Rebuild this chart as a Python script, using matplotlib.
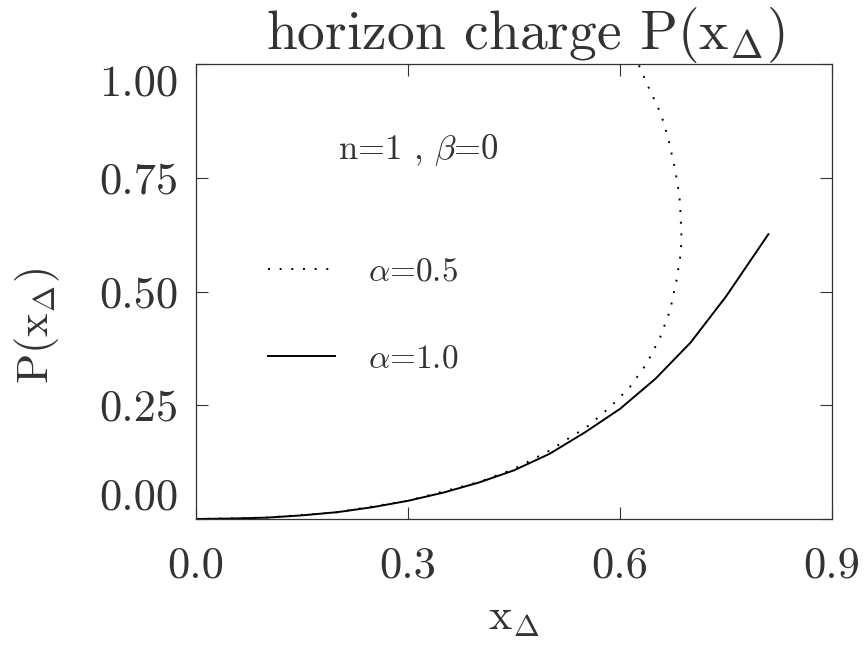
import matplotlib
matplotlib.use("Agg")
import matplotlib.pyplot as plt

# values
x_a10 = [0.0, 0.05, 0.10, 0.15, 0.20, 0.25, 0.30, 0.35, 0.40, 0.45,
         0.50, 0.55, 0.60, 0.65, 0.70, 0.75, 0.81]
p_a10 = [0.0, 0.001, 0.003, 0.008, 0.015, 0.026, 0.040, 0.058, 0.080, 0.107,
         0.143, 0.190, 0.242, 0.308, 0.388, 0.489, 0.626]

# alpha = 0.5 bends back (x is not single valued), so keep it ordered along the curve
x_a05 = [0.0, 0.10, 0.20, 0.30, 0.40, 0.45, 0.50, 0.53, 0.553, 0.586, 0.614,
         0.638, 0.657, 0.671, 0.680, 0.686, 0.687, 0.686, 0.685, 0.682,
         0.678, 0.673, 0.668, 0.661, 0.653, 0.642, 0.628, 0.615]
p_a05 = [0.0, 0.003, 0.015, 0.040, 0.081, 0.110, 0.150, 0.180, 0.202, 0.246, 0.290,
         0.342, 0.400, 0.459, 0.525, 0.584, 0.621, 0.658, 0.695, 0.731,
         0.768, 0.803, 0.838, 0.875, 0.908, 0.943, 0.993, 1.03]

x_ticks = [0.0, 0.3, 0.6, 0.9]
x_ticklabels = ["0.0", "0.3", "0.6", "0.9"]
y_ticks = [0.0, 0.25, 0.5, 0.75, 1.0]
y_ticklabels = ["0.00", "0.25", "0.50", "0.75", "1.00"]

plt.rcParams["font.family"] = ["cmr10", "DejaVu Serif"]
plt.rcParams["mathtext.fontset"] = "cm"
plt.rcParams["axes.formatter.use_mathtext"] = True

txt_col = "#333333"
W, H = 865, 646
fig = plt.figure(figsize=(W / 100, H / 100), dpi=100)
ax = fig.add_axes([196 / W, 1 - 519 / H, (832 - 196) / W, (519 - 64) / H])

ax.plot(x_a05, p_a05, color="black", lw=1.4, linestyle=(0, (1, 5)),
        label=r"$\alpha$=0.5")
ax.plot(x_a10, p_a10, color="black", lw=1.4, label=r"$\alpha$=1.0")

ax.set_xlim(0, 0.9)
ax.set_ylim(0, 1.0)
ax.set_xticks(x_ticks)
ax.set_xticklabels(x_ticklabels)
ax.set_yticks(y_ticks)
ax.set_yticklabels(y_ticklabels)

ax.tick_params(direction="in", length=8.6, width=0.8, top=True, right=True,
               labelsize=32, colors=txt_col)
ax.tick_params(axis="y", pad=13)
ax.tick_params(axis="x", pad=20)
for sp in ax.spines.values():
    sp.set_linewidth(0.9)
    sp.set_color("#333333")

# end labels sit inside the axis range, like the original
ylabs = ax.get_yticklabels()
ylabs[0].set_va("bottom")
ylabs[-1].set_va("top")

ax.set_xlabel(r"x$_{\Delta}$", fontsize=32, color=txt_col, labelpad=9)
ax.set_ylabel(r"P(x$_{\Delta}$)", fontsize=32, color=txt_col)
ax.yaxis.set_label_coords(-0.21, 0.424)

fig.text(525 / W, 1 - 35 / H, r"horizon charge P(x$_{\Delta}$)", fontsize=40,
         color=txt_col, ha="center", va="center")

ax.text(0.201, 0.81, r"n=1 , $\beta$=0", fontsize=25, color=txt_col,
        va="center", ha="left")

ax.legend(loc="upper left", bbox_to_anchor=(268 / W, 1 - 257 / H),
          bbox_transform=fig.transFigure, frameon=False, fontsize=24,
          handlelength=2.0, handletextpad=1.0, labelspacing=1.75,
          borderpad=0, borderaxespad=0, labelcolor=txt_col)

fig.savefig("out.png", dpi=100)
